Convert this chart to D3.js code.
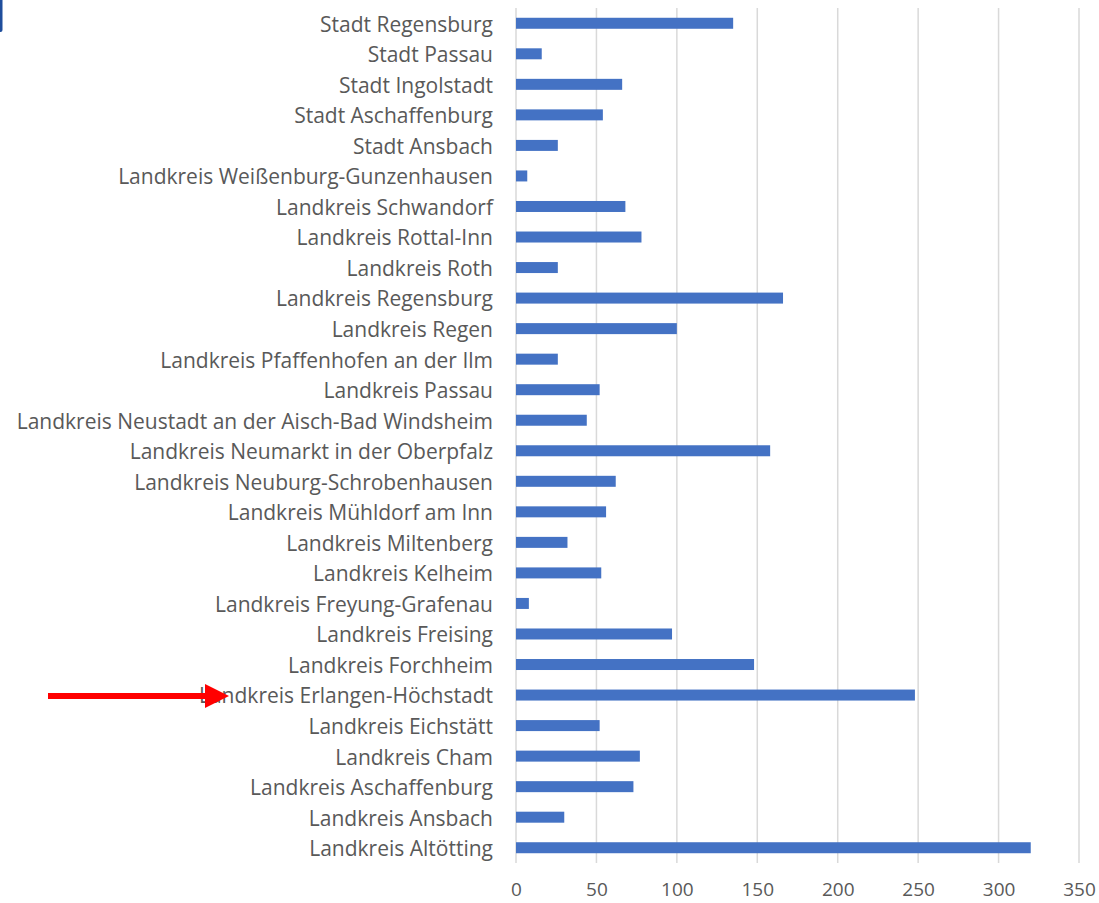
<!DOCTYPE html>
<html>
<head>
<meta charset="utf-8">
<script src="https://cdn.jsdelivr.net/npm/d3@7"></script>
<style>
  html, body { margin: 0; padding: 0; background: #fff; }
  svg text { font-family: "Open Sans", "Noto Sans", sans-serif; fill: #595959; }
</style>
</head>
<body>
<svg id="chart"></svg>
<script>
const categories = [
  'Stadt Regensburg', 'Stadt Passau', 'Stadt Ingolstadt', 'Stadt Aschaffenburg',
  'Stadt Ansbach', 'Landkreis Weißenburg-Gunzenhausen', 'Landkreis Schwandorf',
  'Landkreis Rottal-Inn', 'Landkreis Roth', 'Landkreis Regensburg', 'Landkreis Regen',
  'Landkreis Pfaffenhofen an der Ilm', 'Landkreis Passau',
  'Landkreis Neustadt an der Aisch-Bad Windsheim', 'Landkreis Neumarkt in der Oberpfalz',
  'Landkreis Neuburg-Schrobenhausen', 'Landkreis Mühldorf am Inn', 'Landkreis Miltenberg',
  'Landkreis Kelheim', 'Landkreis Freyung-Grafenau', 'Landkreis Freising',
  'Landkreis Forchheim', 'Landkreis Erlangen-Höchstadt', 'Landkreis Eichstätt',
  'Landkreis Cham', 'Landkreis Aschaffenburg', 'Landkreis Ansbach', 'Landkreis Altötting'
];
const values = [
  135, 16, 66, 54,
  26, 7, 68,
  78, 26, 166, 100,
  26, 52,
  44, 158,
  62, 56, 32,
  53, 8, 97,
  148, 248, 52,
  77, 73, 30, 320
];
const xTicks = [0, 50, 100, 150, 200, 250, 300, 350];
const highlighted = 'Landkreis Erlangen-Höchstadt';

const width = 1099;
const height = 903;
const margin = { top: 8, right: 20, bottom: 40, left: 516 };

const svg = d3.select('#chart')
  .attr('width', width)
  .attr('height', height);

const data = categories.map((c, i) => ({ name: c, value: values[i] }));

const x = d3.scaleLinear()
  .domain([0, 350])
  .range([margin.left, 1079]);
const y = d3.scaleBand()
  .domain(categories)
  .range([margin.top, height - margin.bottom])
  .paddingInner(0.64)
  .paddingOuter(0.32);

// small blue mark in top-left corner
svg.append('rect')
  .attr('x', -4).attr('y', -4)
  .attr('width', 6.5).attr('height', 36)
  .attr('rx', 2)
  .attr('fill', '#1f4e9c');

// gridlines
svg.append('g')
  .selectAll('line')
  .data(xTicks)
  .enter().append('line')
    .attr('x1', d => x(d)).attr('x2', d => x(d))
    .attr('y1', margin.top).attr('y2', height - margin.bottom)
    .attr('stroke', '#d9d9d9')
    .attr('stroke-width', 1.5);

// bars
svg.append('g')
  .selectAll('rect')
  .data(data)
  .enter().append('rect')
    .attr('x', x(0))
    .attr('y', d => y(d.name))
    .attr('width', d => x(d.value) - x(0))
    .attr('height', y.bandwidth())
    .attr('fill', '#4472c4');

// category labels
const yAxis = d3.axisLeft(y).tickSize(0).tickPadding(23);
svg.append('g')
  .attr('transform', `translate(${margin.left}, 0)`)
  .call(yAxis)
  .call(g => g.select('.domain').remove())
  .selectAll('text')
    .attr('font-size', 21)
    .attr('dy', '0.4em')
    .attr('font-family', null)
    .attr('fill', null);

// x tick labels
const xAxis = d3.axisBottom(x).tickValues(xTicks).tickSize(0).tickPadding(20);
svg.append('g')
  .attr('transform', `translate(0, ${height - margin.bottom})`)
  .call(xAxis)
  .call(g => g.select('.domain').remove())
  .selectAll('text')
    .attr('font-size', 19)
    .attr('font-family', null)
    .attr('fill', null);

// red arrow pointing at the highlighted label
const ay = y(highlighted) + y.bandwidth() / 2 + 1;
const arrow = svg.append('g');
arrow.append('line')
  .attr('x1', 48).attr('x2', 210)
  .attr('y1', ay).attr('y2', ay)
  .attr('stroke', '#ff0000')
  .attr('stroke-width', 6);
arrow.append('path')
  .attr('d', `M205,${ay - 12} L229,${ay} L205,${ay + 12} Z`)
  .attr('fill', '#ff0000');
</script>
</body>
</html>
